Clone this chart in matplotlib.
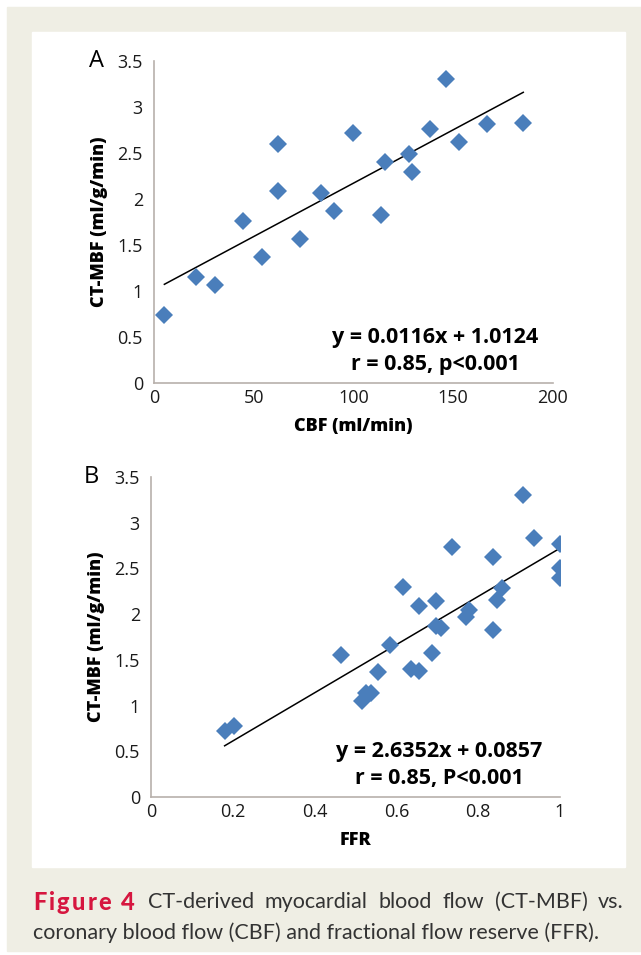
import matplotlib.pyplot as plt
from matplotlib.patches import Rectangle

# Panel A: CBF vs CT-MBF
cbf = [5.2, 21.1, 30.7, 44.6, 54.1, 62.1, 62.1, 73.4, 83.8, 90.1,
       99.8, 113.6, 115.7, 127.8, 129.5, 138.2, 146.2, 152.9, 166.7, 185.1]
mbf_a = [0.735, 1.15, 1.06, 1.76, 1.37, 2.60, 2.09, 1.57, 2.06, 1.87,
         2.72, 1.83, 2.40, 2.49, 2.29, 2.76, 3.30, 2.62, 2.82, 2.83]
slope_a, icpt_a = 0.0116, 1.0124

# Panel B: FFR vs CT-MBF
ffr = [0.180, 0.204, 0.464, 0.517, 0.525, 0.537, 0.555, 0.584, 0.615, 0.635,
       0.656, 0.656, 0.688, 0.696, 0.696, 0.709, 0.736, 0.770, 0.778, 0.837,
       0.837, 0.847, 0.857, 0.909, 0.937, 1.0, 1.0, 1.0]
mbf_b = [0.724, 0.779, 1.55, 1.05, 1.14, 1.14, 1.37, 1.66, 2.30, 1.40,
         1.38, 2.09, 1.57, 2.14, 1.87, 1.85, 2.73, 1.97, 2.05, 2.62,
         1.83, 2.15, 2.29, 3.30, 2.83, 2.77, 2.50, 2.40]
slope_b, icpt_b = 2.6352, 0.0857

W, H = 641, 955
BLUE = '#4a7ebb'
SPINE = '#b8b0ab'
FONT = 'Open Sans'

fig = plt.figure(figsize=(W / 100, H / 100), dpi=100)
fig.patch.set_facecolor('white')


def px_rect(x0, y0, x1, y1):
    # pixel box (top-left origin) -> figure fraction
    return [x0 / W, 1 - y1 / H, (x1 - x0) / W, (y1 - y0) / H]


# beige frame and white panel
bg = fig.add_axes([0, 0, 1, 1], zorder=-10)
bg.set_xlim(0, W)
bg.set_ylim(H, 0)
bg.axis('off')
bg.add_patch(Rectangle((7, 7), W - 7, 944, color='#efeee4'))
bg.add_patch(Rectangle((32, 32), 593, 835, color='white'))


def scatter_panel(rect, x, y, slope, icpt, xmax, xticks, xticklabels, xlabel, eq, stat, eq_x, letter):
    ax = fig.add_axes(px_rect(*rect))
    ax.plot(x, y, 'D', color=BLUE, markersize=9.5, markeredgewidth=0, zorder=3)
    xs = [min(x), max(x)]
    ax.plot(xs, [slope * v + icpt for v in xs], color='black', lw=1.1, zorder=2)
    ax.set_xlim(0, xmax)
    ax.set_ylim(0, 3.5)
    ax.set_xticks(xticks)
    ax.set_xticklabels(xticklabels, fontfamily=FONT, fontsize=13)
    ax.set_yticks([0, 0.5, 1, 1.5, 2, 2.5, 3, 3.5])
    ax.set_yticklabels(['0', '0.5', '1', '1.5', '2', '2.5', '3', '3.5'], fontfamily=FONT, fontsize=13)
    ax.tick_params(length=0, colors='#1a1a1a')
    ax.tick_params(axis='y', pad=8)
    ax.tick_params(axis='x', pad=4)
    for s in ['top', 'right']:
        ax.spines[s].set_visible(False)
    for s in ['left', 'bottom']:
        ax.spines[s].set_color(SPINE)
        ax.spines[s].set_linewidth(1.2)
    ax.set_ylabel('CT-MBF (ml/g/min)', fontfamily=FONT, fontsize=13, fontweight='heavy', labelpad=7)
    ax.set_xlabel(xlabel, fontfamily=FONT, fontsize=13, fontweight='heavy', labelpad=8)
    ax.text(eq_x, 0.5, eq, fontfamily=FONT, fontsize=15.5, fontweight='bold', ha='center', va='center')
    ax.text(eq_x, 0.2, stat, fontfamily=FONT, fontsize=15.5, fontweight='bold', ha='center', va='center')
    ax.text(-0.145, 1.0, letter, transform=ax.transAxes, fontfamily=FONT, fontsize=17,
            ha='center', va='center')
    return ax


scatter_panel((154, 61, 553, 383), cbf, mbf_a, slope_a, icpt_a, 200,
              [0, 50, 100, 150, 200], ['0', '50', '100', '150', '200'],
              'CBF (ml/min)', 'y = 0.0116x + 1.0124', 'r = 0.85, p<0.001', 141, 'A')
scatter_panel((151, 477, 560, 797), ffr, mbf_b, slope_b, icpt_b, 1,
              [0, 0.2, 0.4, 0.6, 0.8, 1], ['0', '0.2', '0.4', '0.6', '0.8', '1'],
              'FFR', 'y = 2.6352x + 0.0857', 'r = 0.85, P<0.001', 0.705, 'B')

# caption; "Figure 4" letter-spaced, first line justified word by word
renderer = fig.canvas.get_renderer()
cap_font = dict(fontfamily='Lato', fontsize=15.5)
y1 = 1 - 902 / H


def spread(artists, x0, x1):
    widths = [a.get_window_extent(renderer).width for a in artists]
    gap = (x1 - x0 - sum(widths)) / (len(artists) - 1)
    xpos = x0
    for a, w in zip(artists, widths):
        a.set_x(xpos / W)
        xpos += w + gap


chars = [fig.text(0, y1, ch, va='center', ha='left', color='#d6163f', fontweight='black',
                  fontfamily='Lato', fontsize=17) for ch in 'Figure 4']
spread(chars, 33, 135)

words = [fig.text(0, y1, w, va='center', ha='left', color='#333333', **cap_font)
         for w in 'CT-derived myocardial blood flow (CT-MBF) vs.'.split()]
spread(words, 148, 624)

fig.text(33 / W, 1 - 933 / H, 'coronary blood flow (CBF) and fractional flow reserve (FFR).',
         va='center', ha='left', color='#333333', **cap_font)

fig.savefig('out.png', dpi=100, facecolor=fig.get_facecolor())
